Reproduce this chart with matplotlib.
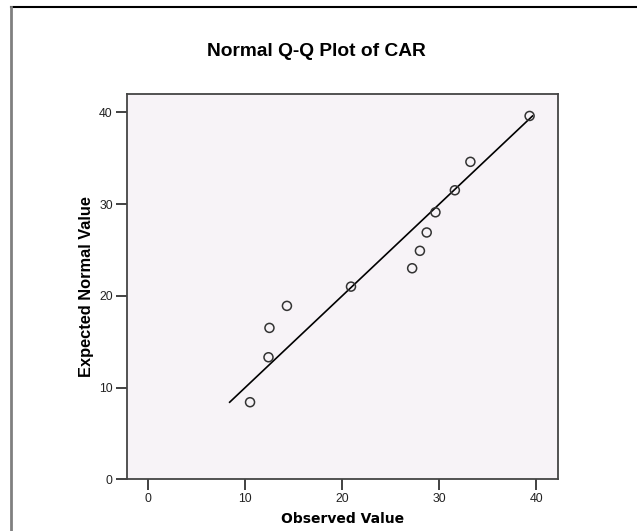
import matplotlib
matplotlib.use("Agg")
import matplotlib.pyplot as plt
from matplotlib.lines import Line2D

plt.rcParams['font.family'] = ['Liberation Sans', 'DejaVu Sans']

# Normal Q-Q data for CAR (observed vs expected normal)
observed = [10.5, 12.4, 12.5, 14.3, 20.9, 27.2, 28.0, 28.7, 29.6, 31.6, 33.2, 39.3]
expected = [8.4, 13.3, 16.5, 18.9, 21.0, 23.0, 24.9, 26.9, 29.1, 31.5, 34.6, 39.6]
ref_line = [8.4, 39.6]
ticks = [0, 10, 20, 30, 40]

fig = plt.figure(figsize=(6.37, 5.31), dpi=100)
ax = fig.add_axes([0.199, 0.0974, 0.6766, 0.7257])
ax.set_facecolor("#f7f3f7")

ax.plot(ref_line, ref_line, color="black", lw=1.2, zorder=2)
ax.scatter(observed, expected, s=42, facecolors="none", edgecolors="#333333",
           linewidths=1.1, zorder=3)

ax.set_xlim(-2.2, 42.2)
ax.set_ylim(0, 42)
ax.set_xticks(ticks)
ax.set_yticks(ticks)
ax.tick_params(length=8, width=1.3, color="#333333", labelsize=8.8,
               labelcolor="#222222", pad=2)
for s in ax.spines.values():
    s.set_color("#444444")
    s.set_linewidth(1.3)

ax.set_xlabel("Observed Value", fontsize=10, fontweight="bold", labelpad=5,
              family="DejaVu Sans")
ax.set_ylabel("Expected Normal Value", fontsize=11.8, fontweight="bold", labelpad=4)
fig.text(0.497, 0.903, "Normal Q-Q Plot of CAR", ha="center", va="center",
         fontsize=13.8, fontweight="bold")

# outer frame lines like the source export
fig.add_artist(Line2D([11 / 637, 1.0], [1 - 7 / 531, 1 - 7 / 531],
                      transform=fig.transFigure, color="black", lw=1.5))
fig.add_artist(Line2D([11 / 637, 11 / 637], [0, 1 - 7 / 531],
                      transform=fig.transFigure, color="#808080", lw=2))

fig.savefig("out.png", dpi=100)
